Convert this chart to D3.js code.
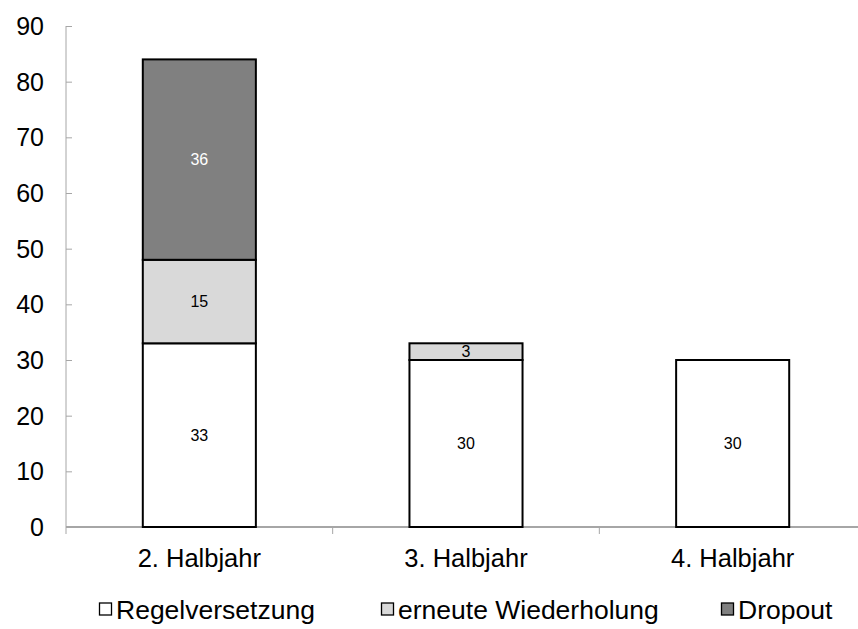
<!DOCTYPE html>
<html>
<head>
<meta charset="utf-8">
<script src="https://cdn.jsdelivr.net/npm/d3@7"></script>
<style>
  body { margin: 0; background: #fff; }
  text { font-family: "Liberation Sans", Arial, sans-serif; }
</style>
</head>
<body>
<div id="chart"></div>
<script>
// data
var categories = ["2. Halbjahr", "3. Halbjahr", "4. Halbjahr"];
var seriesNames = ["Regelversetzung", "erneute Wiederholung", "Dropout"];
var regelversetzung = [33, 30, 30];
var wiederholung = [15, 3, 0];
var dropout = [36, 0, 0];
var yTicks = [0, 10, 20, 30, 40, 50, 60, 70, 80, 90];

var colors = ["#ffffff", "#d9d9d9", "#808080"];
var labelColors = ["#000", "#000", "#fff"];

var width = 858, height = 629;
var margin = {left: 66, top: 26, bottom: 102};

var svg = d3.select("#chart")
  .append("svg")
    .attr("width", width)
    .attr("height", height);

var rows = categories.map(function(c, i) {
  return {cat: c, s0: regelversetzung[i], s1: wiederholung[i], s2: dropout[i]};
});
var stack = d3.stack().keys(["s0", "s1", "s2"]);
var layers = stack(rows);

var x = d3.scaleBand()
  .domain(categories)
  .range([margin.left, margin.left + 800])
  .paddingInner(0.576)
  .paddingOuter(0.288);

var y = d3.scaleLinear()
  .domain([0, 90])
  .range([height - margin.bottom, margin.top]);

var axisColor = "#a6a6a6";

// y axis (ticks inward)
var yAxis = svg.append("g")
  .attr("transform", "translate(" + margin.left + ",0)")
  .call(d3.axisRight(y).tickValues(yTicks).tickSize(6).tickFormat(""));
yAxis.select(".domain").attr("stroke", axisColor).attr("d", "M0," + y(90) + "V" + y(0));
yAxis.selectAll(".tick line").attr("stroke", axisColor);

svg.selectAll(".ylab")
  .data(yTicks)
  .enter()
  .append("text")
    .attr("x", 44)
    .attr("y", function(d) { return y(d); })
    .attr("dy", "0.36em")
    .attr("text-anchor", "end")
    .style("font-size", "25px")
    .text(function(d) { return d; });

// x axis
var xAxis = svg.append("g")
  .attr("transform", "translate(0," + y(0) + ")");
xAxis.append("line")
  .attr("x1", margin.left).attr("x2", width)
  .attr("stroke", axisColor).attr("stroke-width", 2);
var step = x.step();
xAxis.selectAll(".xtick")
  .data(d3.range(0, 4))
  .enter()
  .append("line")
    .attr("x1", function(i) { return margin.left + i * step; })
    .attr("x2", function(i) { return margin.left + i * step; })
    .attr("y1", 0).attr("y2", 7)
    .attr("stroke", axisColor);

svg.selectAll(".xlab")
  .data(categories)
  .enter()
  .append("text")
    .attr("x", function(d) { return x(d) + x.bandwidth() / 2; })
    .attr("y", y(0) + 40)
    .attr("text-anchor", "middle")
    .style("font-size", "25.5px")
    .text(function(d) { return d; });

// bars
layers.forEach(function(layer, li) {
  var g = svg.append("g");
  g.selectAll("rect")
    .data(layer.filter(function(d) { return d[1] - d[0] > 0; }))
    .enter()
    .append("rect")
      .attr("x", function(d) { return x(d.data.cat); })
      .attr("y", function(d) { return y(d[1]); })
      .attr("width", x.bandwidth())
      .attr("height", function(d) { return y(d[0]) - y(d[1]); })
      .attr("fill", colors[li])
      .attr("stroke", "#000")
      .attr("stroke-width", 2);
  g.selectAll("text")
    .data(layer.filter(function(d) { return d[1] - d[0] > 0; }))
    .enter()
    .append("text")
      .attr("x", function(d) { return x(d.data.cat) + x.bandwidth() / 2; })
      .attr("y", function(d) { return y((d[0] + d[1]) / 2); })
      .attr("dy", "0.36em")
      .attr("text-anchor", "middle")
      .attr("fill", labelColors[li])
      .style("font-size", "16px")
      .text(function(d) { return d[1] - d[0]; });
});

// legend
var legendX = [99, 381, 721];
var legend = svg.selectAll(".legend")
  .data(seriesNames)
  .enter()
  .append("g")
    .attr("transform", function(d, i) { return "translate(" + legendX[i] + ",609)"; });
legend.append("rect")
  .attr("x", 0.5).attr("y", -6)
  .attr("width", 12).attr("height", 12)
  .attr("fill", function(d, i) { return colors[i]; })
  .attr("stroke", "#000")
  .attr("stroke-width", 1.3);
legend.append("text")
  .attr("x", 17)
  .attr("y", 0)
  .attr("dy", "0.36em")
  .style("font-size", "26.5px")
  .text(function(d) { return d; });
</script>
</body>
</html>
